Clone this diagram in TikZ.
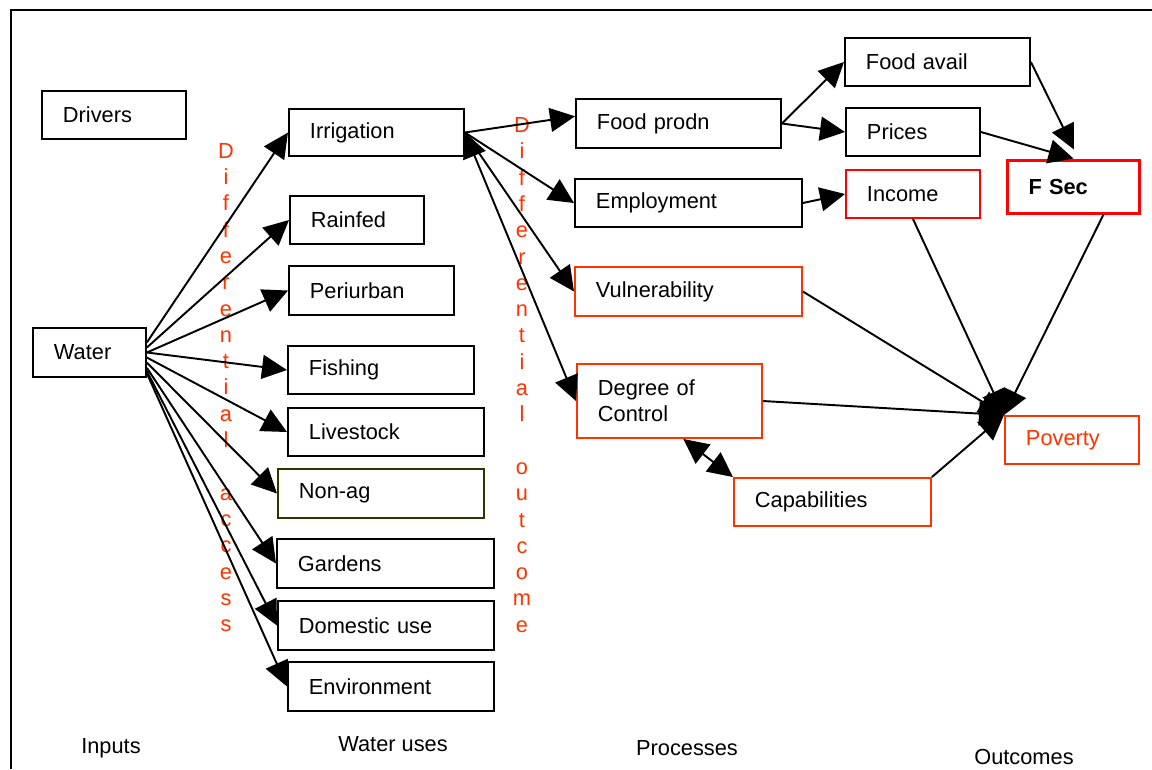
\documentclass[tikz,border=0pt]{standalone}
\usepackage{fontspec}
\setmainfont{Liberation Sans}
\usepackage{xcolor}
\usepackage{tikz}
\usetikzlibrary{arrows.meta}
\definecolor{procred}{RGB}{255, 51, 0}
\definecolor{outred}{RGB}{255, 0, 0}
\definecolor{olivedark}{RGB}{51, 51, 0}

\begin{document}
\begin{tikzpicture}[
  x=0.02cm, y=-0.02cm,
  box/.style={draw, line width=1.1pt, anchor=west, align=left, inner xsep=0.42cm,
    minimum height=0.96cm, font=\fontsize{12.4}{14.9}\selectfont},
  procbox/.style={box, draw=procred},
  outbox/.style={box, draw=outred},
  arr/.style={line width=1.1pt, -{Triangle[length=0.5cm, width=0.48cm]}},
  dblarr/.style={line width=1.1pt, {Triangle[length=0.5cm, width=0.48cm]}-{Triangle[length=0.5cm, width=0.48cm]}},
  vtext/.style={align=center, inner sep=0, text=procred, font=\fontsize{12.4}{14.97}\selectfont},
  colhead/.style={font=\fontsize{12.4}{14.9}\selectfont},
]
\useasboundingbox (0, 0) rectangle (1152, 769);

% Frame
\draw[line width=1.1pt] (11, 769) -- (11, 10) -- (1152, 10);

% ==================== Inputs ====================
\node[box, text width=2.04cm] (drivers) at (41, 115) {Drivers};
\node[box, text width=1.42cm, minimum height=0.98cm] (water) at (32, 352.5) {Water};

% ==================== Water uses ====================
\node[box, text width=2.66cm, minimum height=0.94cm] (irrig) at (288, 132.5) {Irrigation};
\node[box, text width=1.84cm] (rainfed) at (289, 220) {Rainfed};
\node[box, text width=2.46cm, minimum height=0.98cm] (periurban) at (288, 290.5) {Periurban};
\node[box, text width=2.88cm] (fishing) at (287, 370) {Fishing};
\node[box, text width=3.08cm] (livestock) at (287, 432) {Livestock};
\node[box, draw=olivedark, text width=3.28cm, minimum height=0.98cm] (nonag) at (277, 493.5) {Non-ag};
\node[box, text width=3.50cm, minimum height=0.98cm] (gardens) at (276, 563.5) {Gardens};
\node[box, text width=3.48cm, minimum height=0.98cm] (domestic) at (277, 625.5) {Domestic use};
\node[box, text width=3.28cm, minimum height=0.98cm] (environ) at (287, 686.5) {Environment};

% ==================== Processes ====================
\node[box, text width=3.26cm, minimum height=0.98cm] (foodprodn) at (575, 123.5) {Food prodn};
\node[box, text width=3.70cm] (employ) at (574, 203) {Employment};
\node[procbox, text width=3.70cm, minimum height=0.98cm] (vuln) at (574, 291.5) {Vulnerability};
\node[procbox, text width=2.86cm, minimum height=1.48cm] (degree) at (576, 401) {Degree of\\Control};
\node[procbox, text width=3.10cm] (capab) at (733, 502) {Capabilities};

% ==================== Outcomes ====================
\node[box, text width=2.86cm] (foodavail) at (844, 62) {Food avail};
\node[box, text width=1.84cm] (prices) at (845, 132) {Prices};
\node[outbox, text width=1.84cm] (income) at (845, 194) {Income};
\node[outbox, line width=1.7pt, text width=1.80cm, minimum height=1.06cm,
  font=\fontsize{12.4}{14.9}\selectfont\bfseries] (fsec) at (1006, 186.5) {F Sec};
\node[procbox, text width=1.84cm, text=procred] (poverty) at (1004, 440) {Poverty};

% ==================== Differential labels ====================
\node[vtext] (access) at (226, 387.5)
  {D\\i\\f\\f\\e\\r\\e\\n\\t\\i\\a\\l\\\mbox{}\\a\\c\\c\\e\\s\\s};
\node[vtext] (outcome) at (522, 375)
  {D\\i\\f\\f\\e\\r\\e\\n\\t\\i\\a\\l\\\mbox{}\\o\\u\\t\\c\\o\\m\\e};

% ==================== Column headings ====================
\node[colhead] (inputs) at (111, 748) {Inputs};
\node[colhead] (wateruses) at (393, 744) {Water uses};
\node[colhead] (processes) at (687, 748) {Processes};
\node[colhead] (outcomes) at (1024, 757) {Outcomes};

% Water to its uses
\draw[arr] (water.10) -- (irrig.west);
\draw[arr] (water.5) -- (rainfed.west);
\draw[arr] (water.east) -- (periurban.west);
\draw[arr] (water.east) -- (fishing.west);
\draw[arr] (water.-5) -- (livestock.west);
\draw[arr] (water.-10) -- (nonag.west);
\draw[arr] (water.-15) -- (gardens.west);
\draw[arr] (water.-18) -- (domestic.west);
\draw[arr] (water.-20) -- (environ.west);

% Irrigation to processes
\draw[arr] (irrig.east) -- (foodprodn.176);
\draw[arr] (irrig.east) -- (employ.west);
\draw[arr] (irrig.east) -- (vuln.west);
\draw[dblarr] (irrig.east) -- (degree.west);

% Processes to outcomes
\draw[arr] (foodprodn.east) -- (foodavail.west);
\draw[arr] (foodprodn.east) -- (prices.west);
\draw[arr] (employ.east) -- (income.west);
\draw[arr, shorten >=0.2cm] (foodavail.east) -- (fsec.80);
\draw[arr] (prices.east) -- (fsec.north);
\draw[dblarr] (degree.290) -- (capab.north west);

% Into poverty
\draw[arr] (vuln.east) -- (poverty.north west);
\draw[arr] (degree.east) -- (poverty.north west);
\draw[arr] (income.south) -- (poverty.north west);
\draw[arr] (fsec.-43) -- (poverty.north west);
\draw[arr] (capab.north east) -- (poverty.north west);

\end{tikzpicture}
\end{document}
